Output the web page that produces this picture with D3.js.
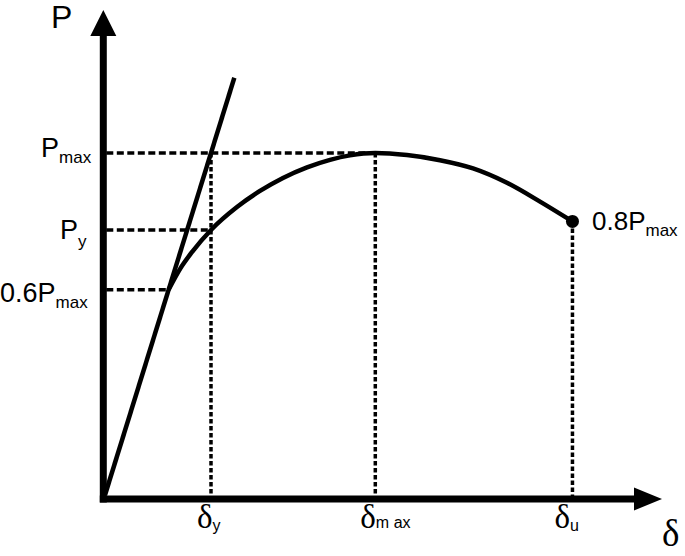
<!DOCTYPE html>
<html>
<head>
<meta charset="utf-8">
<script src="https://cdn.jsdelivr.net/npm/d3@7"></script>
<style>
html,body{margin:0;padding:0;background:#fff;}
svg{display:block;}
</style>
</head>
<body>
<svg id="chart" width="685" height="556"></svg>
<script>
// ---- data (δ in units of δy, P in units of Pmax) ----
const curveDelta = [0.6, 0.71, 0.83, 1.0, 1.245, 1.462, 1.679, 1.906, 2.123, 2.311, 2.55, 2.849, 3.16, 3.472, 3.792, 4.104, 4.41];
const curveP     = [0.6, 0.662, 0.714, 0.775, 0.842, 0.889, 0.927, 0.958, 0.98, 0.993, 1.0, 0.994, 0.979, 0.955, 0.913, 0.858, 0.8];
const tangentDelta = [0, 1.22];
const tangentP     = [0, 1.22];
const xTickValues = [1.0, 2.55, 4.41];
const xTickSubs   = ["y", "m ax", "u"];
const xTickTops   = [1.0, 1.0, 0.8];
const yTickValues = [1.0, 0.775, 0.6];
const yTickMains  = ["P", "P", "0.6P"];
const yTickSubs   = ["max", "y", "max"];
const yTickEnds   = [2.55, 1.0, 0.6];
const endLabelMain = "0.8P", endLabelSub = "max";
const axisLabelY = "P", axisLabelX = "δ";

const svg = d3.select("#chart");
const x = d3.scaleLinear().domain([0, 1]).range([105, 211]);
const y = d3.scaleLinear().domain([0, 1]).range([495, 153]);

const axX = x(0) - 1.7;     // y-axis centre
const axY = y(0) + 4;       // x-axis centre

// ---- dashed guide lines ----
const hDash = "7,3.5", vDash = "4.5,2.5";
svg.selectAll("line.hguide").data(yTickValues).join("line")
  .attr("x1", axX + 3).attr("x2", (d, i) => x(yTickEnds[i]))
  .attr("y1", d => y(d)).attr("y2", d => y(d))
  .attr("stroke", "#000").attr("stroke-width", 3.5).attr("stroke-dasharray", hDash);
svg.selectAll("line.vguide").data(xTickValues).join("line")
  .attr("x1", d => x(d)).attr("x2", d => x(d))
  .attr("y1", (d, i) => y(xTickTops[i])).attr("y2", axY - 3)
  .attr("stroke", "#000").attr("stroke-width", 3.5).attr("stroke-dasharray", vDash);

// ---- axes ----
svg.append("line").attr("x1", axX).attr("x2", axX).attr("y1", axY + 3.5).attr("y2", 34)
  .attr("stroke", "#000").attr("stroke-width", 7);
svg.append("path").attr("d", d3.line()([[axX - 13, 36], [axX + 13, 36], [axX, 10]]) + "Z").attr("fill", "#000");
svg.append("line").attr("x1", axX - 3.5).attr("x2", 636).attr("y1", axY).attr("y2", axY)
  .attr("stroke", "#000").attr("stroke-width", 7);
svg.append("path").attr("d", d3.line()([[634, axY - 11.5], [634, axY + 11.5], [662, axY]]) + "Z").attr("fill", "#000");

// ---- tangent line ----
const line = d3.line().x(d => x(d[0])).y(d => y(d[1]));
svg.append("path").datum(tangentDelta.map((d, i) => [d, tangentP[i]]))
  .attr("d", line).attr("fill", "none").attr("stroke", "#000").attr("stroke-width", 4.5).attr("stroke-linecap", "butt");

// ---- load curve ----
const curvePts = curveDelta.map((d, i) => [d, curveP[i]]);
svg.append("path").datum(curvePts)
  .attr("d", line.curve(d3.curveMonotoneX)).attr("fill", "none").attr("stroke", "#000").attr("stroke-width", 4.5);
const last = curvePts[curvePts.length - 1];
svg.append("circle").attr("cx", x(last[0])).attr("cy", y(last[1])).attr("r", 6.5).attr("fill", "#000");

// ---- labels ----
const sans = "'Liberation Sans', Arial, sans-serif";
const serif = "'Liberation Serif', 'Times New Roman', serif";

svg.append("text").attr("x", 51).attr("y", 28).attr("font-family", sans).attr("font-size", 32).text(axisLabelY);
svg.append("text").attr("x", 662).attr("y", 546).attr("font-family", serif).attr("font-size", 37).text(axisLabelX);

const yLabelX = [41, 60, 0];
const yLabelBase = [157, 239, 302];
yTickValues.forEach((v, i) => {
  const t = svg.append("text").attr("x", yLabelX[i]).attr("y", yLabelBase[i]).attr("font-family", sans);
  t.append("tspan").attr("font-size", 27).text(yTickMains[i]);
  t.append("tspan").attr("font-size", 17).attr("dy", i === 1 ? 8 : 6).text(yTickSubs[i]);
});

const et = svg.append("text").attr("x", 592).attr("y", 230).attr("font-family", sans);
et.append("tspan").attr("font-size", 26).text(endLabelMain);
et.append("tspan").attr("font-size", 17).attr("dy", 6).text(endLabelSub);

const xLabelOff = [-14, -15, -18];
xTickValues.forEach((v, i) => {
  const t = svg.append("text").attr("x", x(v) + xLabelOff[i]).attr("y", 528);
  t.append("tspan").attr("font-family", serif).attr("font-size", 33).text("δ");
  t.append("tspan").attr("font-family", sans).attr("font-size", 16).attr("dy", i === 1 ? 0 : 3).text(xTickSubs[i]);
});
</script>
</body>
</html>
